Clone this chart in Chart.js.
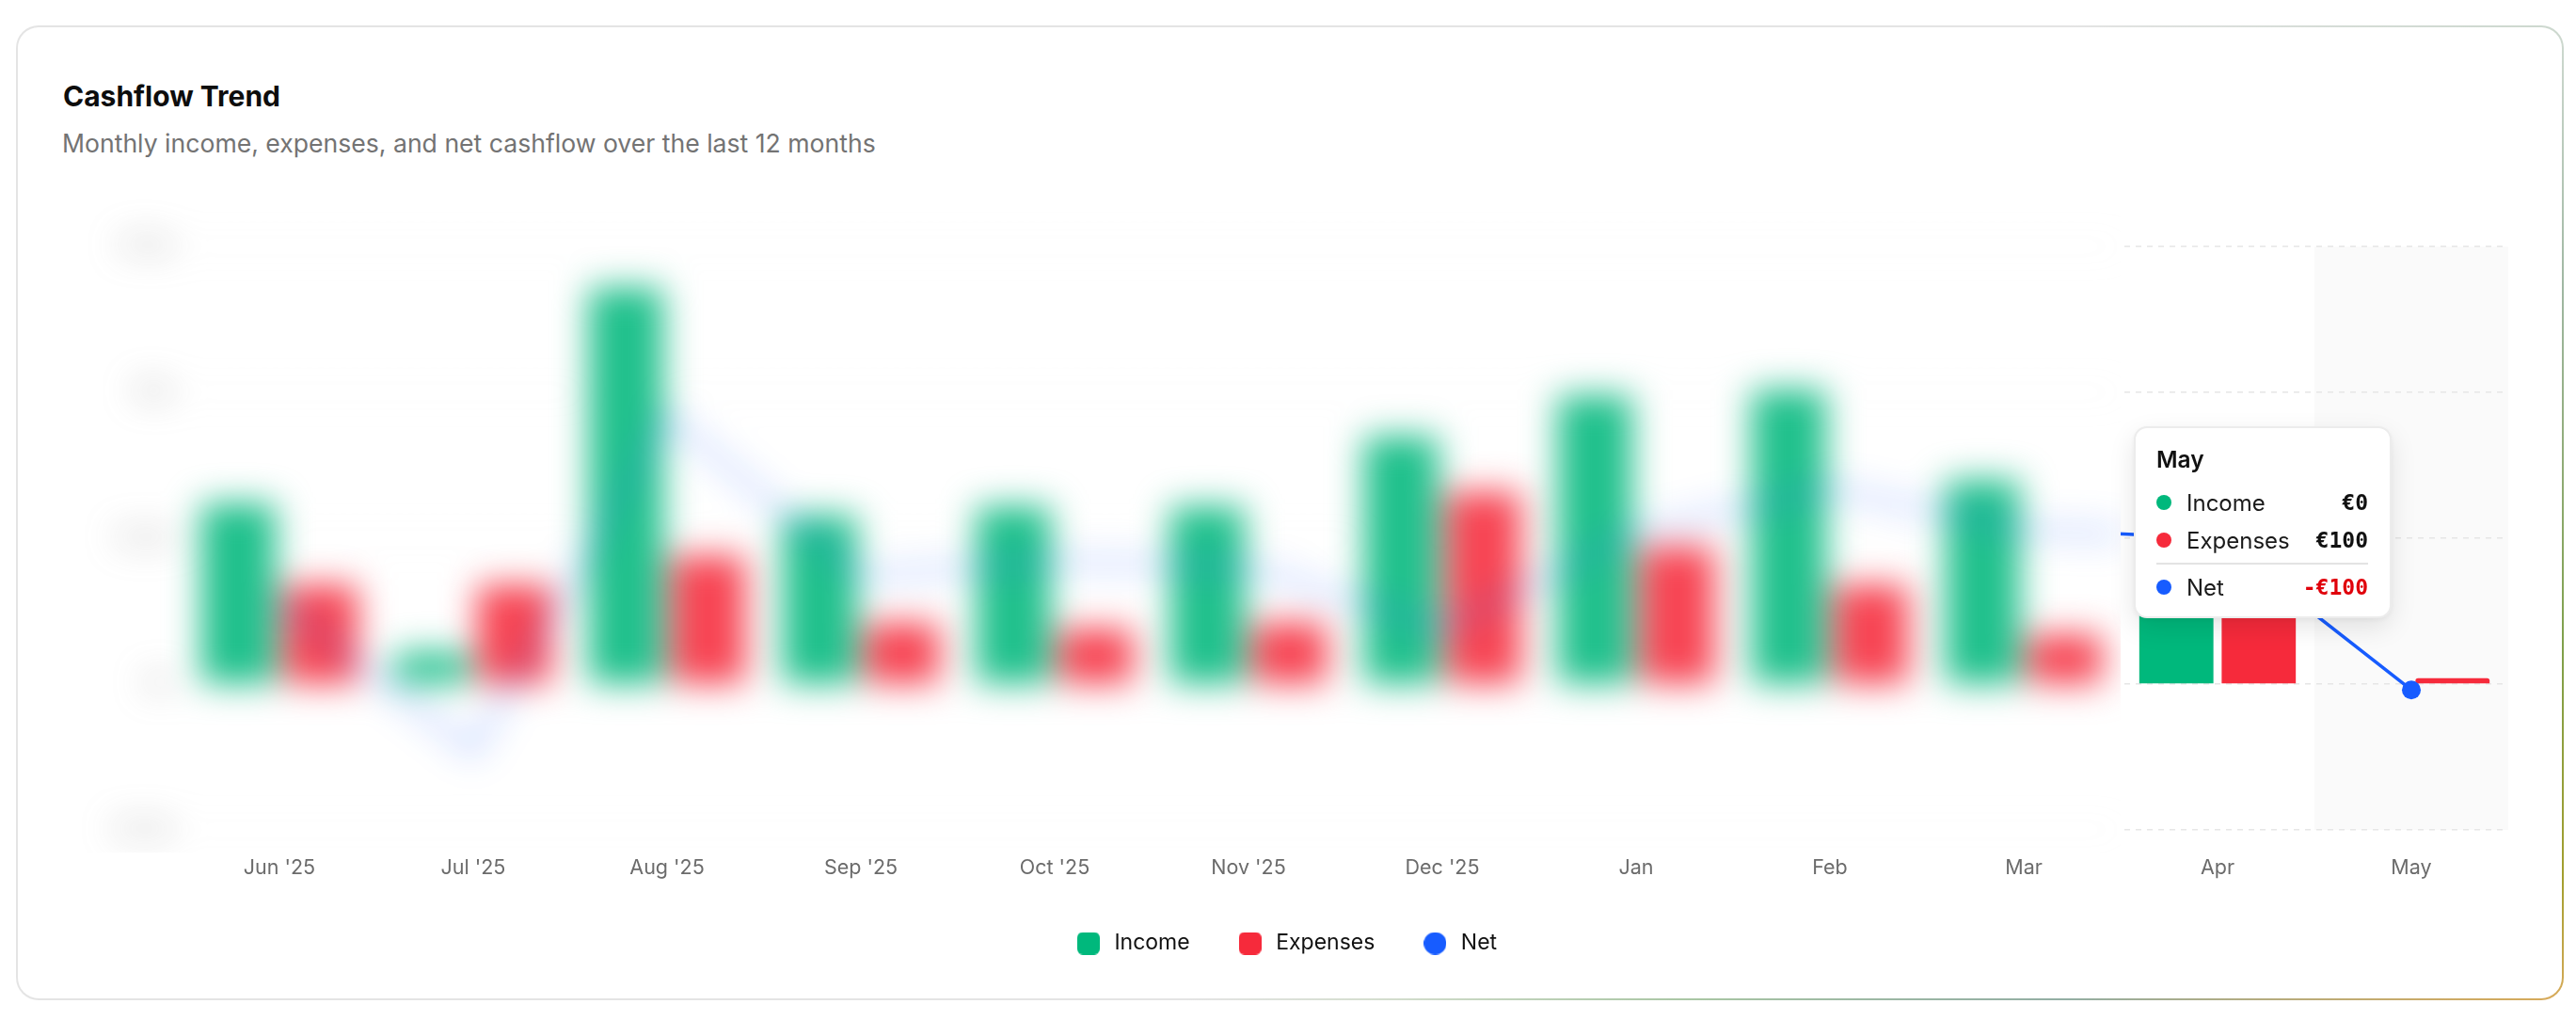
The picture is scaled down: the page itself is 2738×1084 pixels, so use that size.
<!DOCTYPE html>
<html>
<head>
<meta charset="utf-8">
<title>Cashflow Trend</title>
<script src="https://cdn.jsdelivr.net/npm/chart.js@4.4.1/dist/chart.umd.min.js"></script>
<style>
  html, body { margin: 0; padding: 0; background: #fff; width: 2738px; height: 1084px; overflow: hidden; font-family: Inter, "Noto Sans", sans-serif; }
  .frame {
    position: absolute; left: 17px; top: 27px; width: 2708px; height: 1036px;
    box-sizing: border-box; padding: 2px; border-radius: 24px;
    background: conic-gradient(from 0deg at 50% 50%,
      #e4e4e4 0deg, #e4e4e4 58deg, #cbd7cd 70deg, #9fb7a2 80deg, #7fa04a 96deg,
      #a39f2e 106deg, #d7aa5a 111deg, #93aea4 122deg, #a9c6a4 140deg,
      #d3ddcd 168deg, #e4e4e4 192deg, #e4e4e4 360deg);
  }
  .card { width: 100%; height: 100%; background: #fff; border-radius: 22px; }
  h1 { position: absolute; left: 67px; top: 87px; margin: 0; font-size: 30px; line-height: 1; font-weight: 700; color: #0d0d0d; }
  .sub { position: absolute; left: 66px; top: 139px; font-size: 26.6px; line-height: 1; color: #737373; }
  #wrap { position: absolute; left: 66px; top: 230px; width: 2610px; height: 794px; }
  #blur { position: absolute; z-index: 2; }
  #tip {
    position: absolute; display: none; z-index: 3; box-sizing: border-box; width: 274px;
    padding: 18px 23px 14px 22px; background: #fff; border: 2px solid #ececec; border-radius: 14px;
    box-shadow: 0 10px 28px rgba(0,0,0,0.10), 0 2px 6px rgba(0,0,0,0.05);
  }
  #tip .tt { font-size: 24.5px; font-weight: 600; line-height: 30px; color: #111; margin-bottom: 14px; }
  #tip .row { display: flex; align-items: center; height: 34px; }
  #tip .row + .row { margin-top: 6px; }
  #tip .dot { width: 16px; height: 16px; border-radius: 50%; margin-right: 16px; }
  #tip .lbl { flex: 1; font-size: 24px; color: #1a1a1a; }
  #tip .val { font-family: "DejaVu Sans Mono", monospace; font-weight: 700; font-size: 23px; color: #111; }
  #tip .sep { height: 2px; background: #e3e3e3; margin: 7px 0; }
</style>
</head>
<body>
<div class="frame"><div class="card"></div></div>
<h1>Cashflow Trend</h1>
<div class="sub">Monthly income, expenses, and net cashflow over the last 12 months</div>
<div id="wrap">
  <canvas id="cashflowChart"></canvas>
  <canvas id="blur"></canvas>
  <div id="tip"></div>
</div>
<script>
// monthly figures in EUR
const months = ["Jun '25", "Jul '25", "Aug '25", "Sep '25", "Oct '25", "Nov '25", "Dec '25", "Jan", "Feb", "Mar", "Apr", "May"];
const income = [3100, 550, 6800, 2900, 3050, 3050, 4250, 4950, 5050, 3500, 4000, 0];
const expenses = [1700, 1700, 2200, 1050, 950, 1050, 3300, 2350, 1700, 850, 1500, 100];
const net = [1400, -1150, 4600, 1850, 2100, 2000, 950, 2600, 3350, 2650, 2500, -100];
const yTicks = [-2500, 0, 2500, 5000, 7500];
const unlockedMonths = 2;   // only the last two months are shown sharp

const colors = { income: '#00b87c', expenses: '#f62a3b', net: '#175cff' };

function euro(v) {
    return (v < 0 ? '-' : '') + '€' + Math.abs(v).toLocaleString('en-US');
}

function legendIcon(color, round) {
    const c = document.createElement('canvas');
    c.width = 24; c.height = 24;
    const g = c.getContext('2d');
    g.fillStyle = color;
    g.beginPath();
    if (round) g.arc(12, 12, 12, 0, Math.PI * 2);
    else g.roundRect(0, 0, 24, 24, 6);
    g.fill();
    return c;
}
const icons = [legendIcon(colors.income, false), legendIcon(colors.expenses, false), legendIcon(colors.net, true)];

// light column behind the hovered month
const hoverColumn = {
    id: 'hoverColumn',
    beforeDraw(chart) {
        const act = chart.tooltip.getActiveElements();
        if (!act.length) return;
        const xs = chart.scales.x;
        const w = xs.width / months.length;
        const cx = xs.getPixelForValue(act[0].index);
        const area = chart.chartArea;
        const ctx = chart.ctx;
        ctx.save();
        ctx.fillStyle = '#fafafa';
        ctx.fillRect(cx - w / 2, area.top, w, area.bottom - area.top);
        ctx.restore();
    }
};

function externalTip(context) {
    const tooltip = context.tooltip;
    const tip = document.getElementById('tip');
    if (!tooltip.dataPoints || !tooltip.dataPoints.length) {
        tip.style.display = 'none';
        return;
    }
    const i = tooltip.dataPoints[0].dataIndex;
    const netColor = net[i] < 0 ? '#e0000b' : '#00a36c';
    tip.innerHTML =
        '<div class="tt">' + months[i] + '</div>' +
        '<div class="row"><span class="dot" style="background:' + colors.income + '"></span><span class="lbl">Income</span><span class="val">' + euro(income[i]) + '</span></div>' +
        '<div class="row"><span class="dot" style="background:' + colors.expenses + '"></span><span class="lbl">Expenses</span><span class="val">' + euro(expenses[i]) + '</span></div>' +
        '<div class="sep"></div>' +
        '<div class="row"><span class="dot" style="background:' + colors.net + '"></span><span class="lbl">Net</span><span class="val" style="color:' + netColor + '">' + euro(net[i]) + '</span></div>';
    tip.style.display = 'block';
    tip.style.left = (tooltip.caretX - 21 - tip.offsetWidth) + 'px';
    tip.style.top = (tooltip.caretY - 274) + 'px';
}

Chart.defaults.font.family = 'Inter';

const ctx = document.getElementById('cashflowChart');

const chart = new Chart(ctx, {
    type: 'bar',
    data: {
        labels: months,
        datasets: [
            {
                label: 'Income',
                data: income,
                backgroundColor: colors.income,
                hoverBackgroundColor: colors.income,
                borderRadius: 4,
                categoryPercentage: 0.85,
                barPercentage: 0.9,
                order: 1
            },
            {
                label: 'Expenses',
                data: expenses,
                backgroundColor: colors.expenses,
                hoverBackgroundColor: colors.expenses,
                borderRadius: 4,
                categoryPercentage: 0.85,
                barPercentage: 0.9,
                order: 1
            },
            {
                type: 'line',
                label: 'Net',
                data: net,
                borderColor: colors.net,
                backgroundColor: colors.net,
                borderWidth: 3.5,
                tension: 0,
                pointRadius: 0,
                pointHoverRadius: 10,
                pointHoverBorderWidth: 0,
                pointHoverBackgroundColor: colors.net,
                order: 0
            }
        ]
    },
    options: {
        responsive: true,
        maintainAspectRatio: false,
        animation: false,
        events: [],
        layout: { padding: { top: 32, right: 10, bottom: 0, left: 0 } },
        interaction: { mode: 'index', intersect: false },
        scales: {
            x: {
                afterFit(scale) { scale.height = 61; },
                grid: { display: false, drawTicks: false },
                border: { display: false },
                ticks: { color: '#6b6b6b', font: { size: 21.5 }, padding: 28, maxRotation: 0, autoSkip: false }
            },
            y: {
                min: yTicks[0],
                max: yTicks[yTicks.length - 1],
                afterFit(scale) { scale.width = 128; },
                afterBuildTicks(scale) { scale.ticks = yTicks.map(v => ({ value: v })); },
                grid: { color: '#e6e6e6', lineWidth: 1.5, drawTicks: false },
                border: { display: false, dash: [6, 6] },
                ticks: {
                    color: '#777',
                    font: { size: 21 },
                    padding: 12,
                    callback: v => v === 0 ? '€0' : (v < 0 ? '-' : '') + '€' + (Math.abs(v) / 1000) + 'k'
                }
            }
        },
        plugins: {
            legend: {
                position: 'bottom',
                labels: {
                    usePointStyle: true,
                    pointStyleWidth: 32,
                    padding: 48,
                    color: '#111',
                    font: { size: 23 },
                    generateLabels(chart) {
                        const items = Chart.defaults.plugins.legend.labels.generateLabels(chart);
                        items.forEach(it => { it.pointStyle = icons[it.datasetIndex]; });
                        return items;
                    },
                    sort: (a, b) => a.datasetIndex - b.datasetIndex
                }
            },
            tooltip: { enabled: false, external: externalTip }
        }
    },
    plugins: [hoverColumn]
});

// show May as the hovered month
const xs = chart.scales.x;
const last = months.length - 1;
const active = [0, 1, 2].map(d => ({ datasetIndex: d, index: last }));
chart.setActiveElements(active);
chart.tooltip.setActiveElements(active, { x: xs.getPixelForValue(last), y: chart.chartArea.top });
chart.update('none');

// blurred copy over the locked months, up to the first unlocked category
const catW = xs.width / months.length;
const area = chart.chartArea;
const bx = Math.round(xs.getPixelForValue(months.length - unlockedMonths) - catW / 2);
const by = Math.round(area.top - 70);
const bh = Math.round(area.bottom + 24 - by);
const blur = document.getElementById('blur');
blur.width = bx; blur.height = bh;
blur.style.left = '0px';
blur.style.top = by + 'px';
const g = blur.getContext('2d');
g.fillStyle = '#fff';
g.fillRect(0, 0, bx, bh);
g.filter = 'blur(18px)';
g.drawImage(chart.canvas, 0, by, bx, bh, 0, 0, bx, bh);
g.filter = 'none';
g.fillStyle = 'rgba(255,255,255,0.12)';
g.fillRect(0, 0, bx, bh);
</script>
</body>
</html>
